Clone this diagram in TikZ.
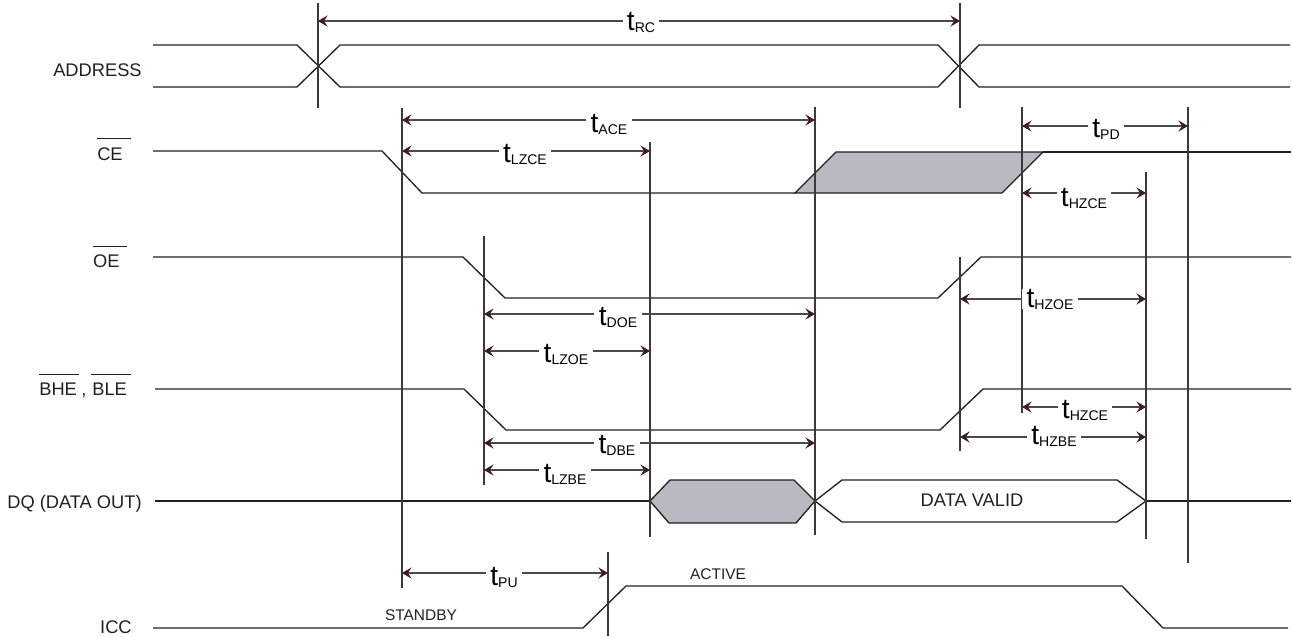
\documentclass[tikz,border=0pt]{standalone}
\usepackage{fontspec}
\setmainfont{Liberation Sans}
\usetikzlibrary{arrows.meta,calc}
\definecolor{sigc}{HTML}{231F20}
\definecolor{guidec}{HTML}{3A3A3A}
\definecolor{dimc}{HTML}{4A4A4A}
\definecolor{tipc}{HTML}{3D1C1C}
\definecolor{shade}{HTML}{B9B9C1}
\newcommand{\tsub}[1]{{\fontsize{16}{16}\selectfont t}\raisebox{-1.2pt}{\fontsize{8}{8}\selectfont #1}}
\tikzset{
  wave/.style={draw=sigc, line width=0.75pt, line join=miter},
  guide/.style={draw=guidec, line width=0.6pt},
  dimline/.style={draw=dimc, line width=0.6pt,
    {Stealth[length=5.5pt,width=6.4pt,inset=2.2pt,color=tipc]}-{Stealth[length=5.5pt,width=6.4pt,inset=2.2pt,color=tipc]}},
  tlab/.style={fill=white, inner xsep=2.5pt, inner ysep=0pt, anchor=base},
  siglab/.style={font=\fontsize{10.4}{12}\selectfont, text=sigc, inner sep=0pt},
  smalllab/.style={font=\fontsize{8.8}{10}\selectfont, text=sigc, inner sep=0pt, anchor=base},
  ovl/.style={draw=sigc, line width=0.6pt}
}
\begin{document}
\begin{tikzpicture}[x=0.02cm,y=-0.02cm]
\useasboundingbox (0,0) rectangle (1292,636);

% ---------- waveforms ----------
% ADDRESS
\draw[wave] (153,45) -- (297,45) -- (340,87) -- (938,87) -- (979,45) -- (1290,45);
\draw[wave] (153,87) -- (297,87) -- (340,45) -- (938,45) -- (979,87) -- (1290,87);
% CE
\draw[wave] (153,151) -- (382,151) -- (422,193) -- (795,193);
\filldraw[wave, fill=shade] (795,193) -- (836,152) -- (1043,152) -- (1002,193) -- cycle;
\draw[wave] (1043,152) -- (1291,152);
% OE
\draw[wave] (153,257) -- (463,257) -- (505,298) -- (938,298) -- (981,257) -- (1291,257);
% BHE, BLE
\draw[wave] (155,389) -- (464,389) -- (506,430) -- (940,430) -- (983,389) -- (1291,389);
% DQ
\draw[wave] (155,501) -- (650,501);
\filldraw[wave, fill=shade] (650,501) -- (670,480) -- (794,480) -- (815,501) -- (796,523) -- (669,523) -- cycle;
\draw[wave] (815,501) -- (842,480) -- (1117,480) -- (1146,501) -- (1117,522) -- (842,522) -- cycle;
\draw[wave] (1146,501) -- (1291,501);
% ICC
\draw[wave] (153,628) -- (583,628) -- (626,586) -- (1122,586) -- (1163,628) -- (1288,628);

% ---------- guide lines ----------
\draw[guide] (318,3) -- (318,108);
\draw[guide] (960,3) -- (960,108);
\draw[guide] (402,108) -- (402,588);
\draw[guide] (650,142) -- (650,537);
\draw[guide] (815,107) -- (815,535);
\draw[guide] (484,236) -- (484,485);
\draw[guide] (608,552) -- (608,636);
\draw[guide] (960,257) -- (960,451);
\draw[guide] (1022,107) -- (1022,413);
\draw[guide] (1146,172) -- (1146,539);
\draw[guide] (1188,107) -- (1188,563);

% ---------- dimension arrows ----------
\draw[dimline] (318,21) -- (960,21);
\draw[dimline] (402,120) -- (815,120);
\draw[dimline] (402,151) -- (650,151);
\draw[dimline] (1022,126) -- (1188,126);
\draw[dimline] (1022,193) -- (1146,193);
\draw[dimline] (484,314) -- (815,314);
\draw[dimline] (484,351) -- (650,351);
\draw[dimline] (960,299) -- (1146,299);
\draw[dimline] (1022,407) -- (1146,407);
\draw[dimline] (960,437) -- (1146,437);
\draw[dimline] (484,443) -- (815,443);
\draw[dimline] (484,470) -- (650,470);
\draw[dimline] (402,573) -- (608,573);

\node[tlab] (trc)   at (641,30)  {\tsub{RC}};
\node[tlab] (tace)  at (609,132) {\tsub{ACE}};
\node[tlab] (tlzce) at (525,162) {\tsub{LZCE}};
\node[tlab] (tpd)   at (1106,137) {\tsub{PD}};
\node[tlab] (thzcea) at (1084,206) {\tsub{HZCE}};
\node[tlab] (tdoe)  at (618,325) {\tsub{DOE}};
\node[tlab] (tlzoe) at (566,362) {\tsub{LZOE}};
\node[tlab] (thzoe) at (1050,307) {\tsub{HZOE}};
\node[tlab] (thzceb) at (1085,418) {\tsub{HZCE}};
\node[tlab] (thzbe) at (1054,444) {\tsub{HZBE}};
\node[tlab] (tdbe)  at (617,453) {\tsub{DBE}};
\node[tlab] (tlzbe) at (565,482) {\tsub{LZBE}};
\node[tlab] (tpu)   at (504,585) {\tsub{PU}};

% ---------- signal labels ----------
\node[siglab, anchor=base east] (address) at (142,76) {ADDRESS};
\node[siglab, anchor=base east] (ce) at (123,160) {CE};
\draw[ovl] ($(ce.north west)+(0,-8)$) -- ($(ce.north east)+(8,-8)$);
\node[siglab, anchor=base east] (oe) at (120,267) {OE};
\draw[ovl] ($(oe.north west)+(0,-7)$) -- ($(oe.north east)+(7,-7)$);
\node[siglab, anchor=base west] (bhe) at (39,395) {BHE};
\node[siglab, anchor=base west] (comma) at (81,395) {,};
\node[siglab, anchor=base west] (ble) at (92,395) {BLE};
\draw[ovl] ($(bhe.north west)+(0,-8)$) -- ($(bhe.north east)+(2,-8)$);
\draw[ovl] ($(ble.north west)+(-1,-8)$) -- ($(ble.north east)+(4,-8)$);
\node[siglab, anchor=base east] (dq) at (142,508) {DQ (DATA OUT)};
\node[siglab, anchor=base east] (icc) at (132,633) {ICC};

\node[siglab, anchor=base] (valid) at (972,506) {DATA VALID};
\node[smalllab] (standby) at (421,620) {STANDBY};
\node[smalllab] (active) at (718,579) {ACTIVE};
\end{tikzpicture}
\end{document}
